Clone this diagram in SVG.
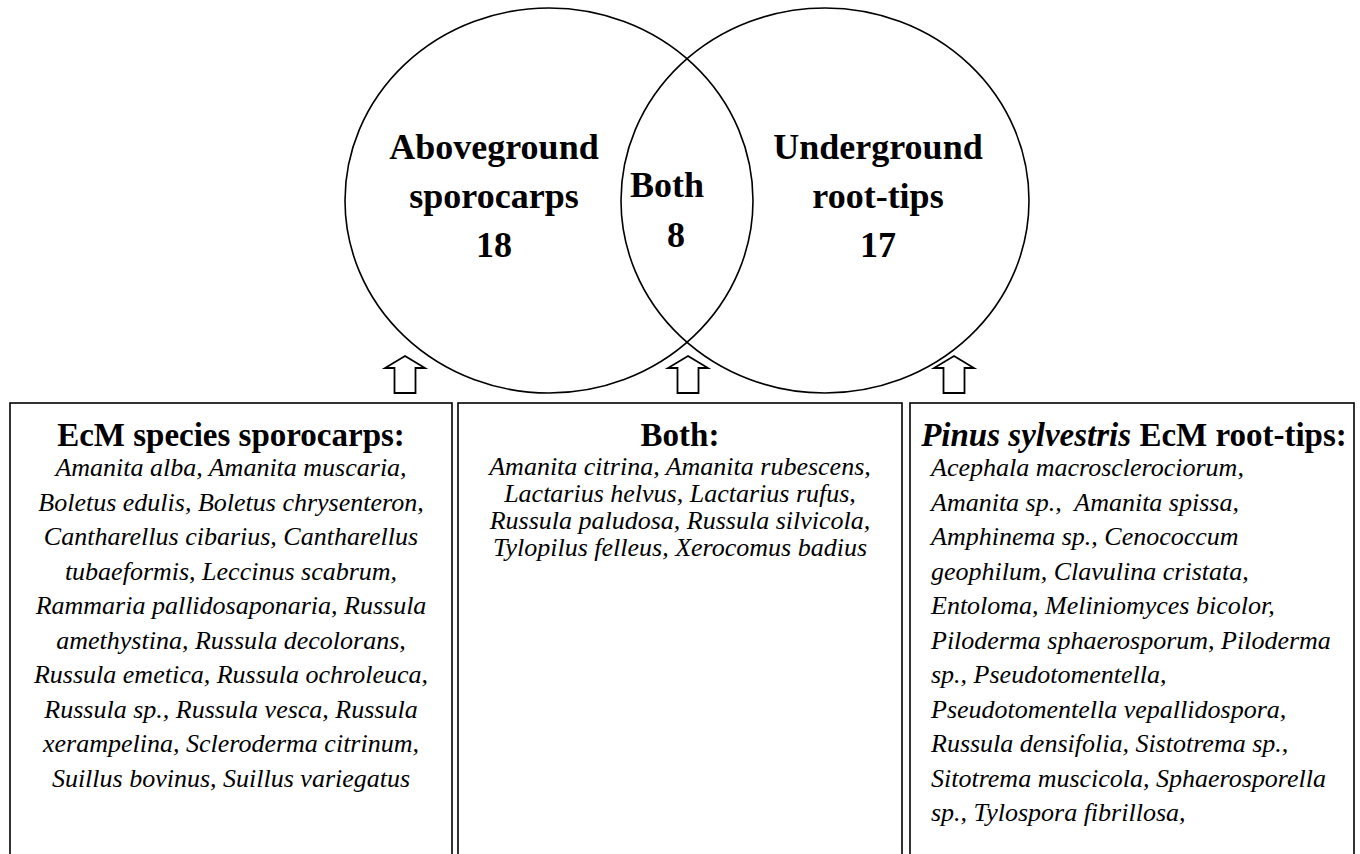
<svg xmlns="http://www.w3.org/2000/svg" width="1360" height="854" viewBox="0 0 1360 854">
<style>
  .shape { fill: none; stroke: #000; stroke-width: 1.6; }
  .box { fill: #fff; stroke: #000; stroke-width: 1.6; }
  .arrow { fill: #fff; stroke: #000; stroke-width: 1.8; stroke-linejoin: miter; }
  .venn { font-family: "Liberation Serif", "Times New Roman", serif; font-weight: bold; font-size: 36px; text-anchor: middle; fill: #000; }
  .title { font-family: "Liberation Serif", "Times New Roman", serif; font-weight: bold; font-size: 33px; text-anchor: middle; fill: #000; }
  .body { font-family: "Liberation Serif", "Times New Roman", serif; font-style: italic; font-size: 26px; fill: #000; }
  .c { text-anchor: middle; }
</style>
<defs>
  <path id="uparrow" d="M 0 0 L 20 12 L 10.5 12 L 10.5 37 L -10.5 37 L -10.5 12 L -20 12 Z"/>
</defs>
<rect width="1360" height="854" fill="#fff"/>

<g id="venn-left">
  <ellipse class="shape" cx="549" cy="200.5" rx="204" ry="192.5"/>
  <text class="venn" x="494" y="159">Aboveground</text>
  <text class="venn" x="494" y="208">sporocarps</text>
  <text class="venn" x="494" y="257">18</text>
</g>
<g id="venn-right">
  <ellipse class="shape" cx="825" cy="200.5" rx="204" ry="192.5"/>
  <text class="venn" x="878" y="159">Underground</text>
  <text class="venn" x="878" y="208">root-tips</text>
  <text class="venn" x="878" y="257">17</text>
</g>
<g id="venn-both">
  <text class="venn" x="667" y="197">Both</text>
  <text class="venn" x="676" y="247">8</text>
</g>

<g id="connectors">
  <use href="#uparrow" class="arrow" x="405" y="356"/>
  <use href="#uparrow" class="arrow" x="688" y="356"/>
  <use href="#uparrow" class="arrow" x="954" y="356"/>
</g>

<g id="box-sporocarps">
  <rect class="box" x="10" y="403" width="442" height="470"/>
  <text class="title" x="231" y="446">EcM species sporocarps:</text>
  <text class="body c" x="231" y="476">Amanita alba, Amanita muscaria,</text>
  <text class="body c" x="231" y="510.5">Boletus edulis, Boletus chrysenteron,</text>
  <text class="body c" x="231" y="545">Cantharellus cibarius, Cantharellus</text>
  <text class="body c" x="231" y="579.5">tubaeformis, Leccinus scabrum,</text>
  <text class="body c" x="231" y="614">Rammaria pallidosaponaria, Russula</text>
  <text class="body c" x="231" y="648.5">amethystina, Russula decolorans,</text>
  <text class="body c" x="231" y="683">Russula emetica, Russula ochroleuca,</text>
  <text class="body c" x="231" y="717.5">Russula sp., Russula vesca, Russula</text>
  <text class="body c" x="231" y="752">xerampelina, Scleroderma citrinum,</text>
  <text class="body c" x="231" y="786.5">Suillus bovinus, Suillus variegatus</text>
</g>

<g id="box-both">
  <rect class="box" x="458" y="403" width="444" height="470"/>
  <text class="title" x="680" y="446">Both:</text>
  <text class="body c" x="680" y="475">Amanita citrina, Amanita rubescens,</text>
  <text class="body c" x="680" y="502">Lactarius helvus, Lactarius rufus,</text>
  <text class="body c" x="680" y="529">Russula paludosa, Russula silvicola,</text>
  <text class="body c" x="680" y="556">Tylopilus felleus, Xerocomus badius</text>
</g>

<g id="box-roottips">
  <rect class="box" x="910" y="403" width="444" height="470"/>
  <text class="title" x="1134" y="446"><tspan font-style="italic">Pinus sylvestris</tspan> EcM root-tips:</text>
  <text class="body" x="931" y="476">Acephala macrosclerociorum,</text>
  <text class="body" x="931" y="510.5" xml:space="preserve">Amanita sp.,  Amanita spissa,</text>
  <text class="body" x="931" y="545">Amphinema sp., Cenococcum</text>
  <text class="body" x="931" y="579.5">geophilum, Clavulina cristata,</text>
  <text class="body" x="931" y="614">Entoloma, Meliniomyces bicolor,</text>
  <text class="body" x="931" y="648.5">Piloderma sphaerosporum, Piloderma</text>
  <text class="body" x="931" y="683">sp., Pseudotomentella,</text>
  <text class="body" x="931" y="717.5">Pseudotomentella vepallidospora,</text>
  <text class="body" x="931" y="752">Russula densifolia, Sistotrema sp.,</text>
  <text class="body" x="931" y="786.5">Sitotrema muscicola, Sphaerosporella</text>
  <text class="body" x="931" y="821">sp., Tylospora fibrillosa,</text>
</g>
</svg>
